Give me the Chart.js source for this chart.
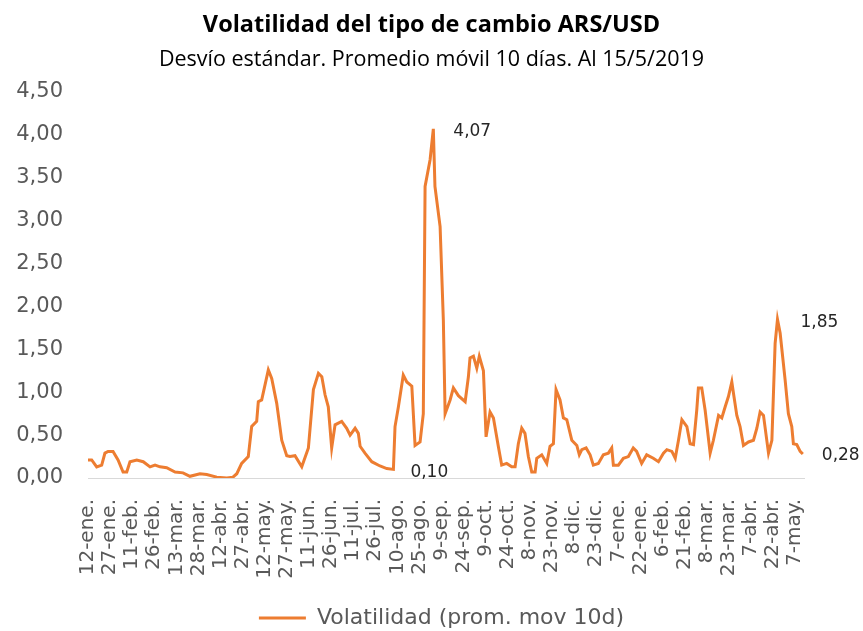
<!DOCTYPE html>
<html>
<head>
<meta charset="utf-8">
<script src="https://cdn.jsdelivr.net/npm/chart.js@4/dist/chart.umd.min.js"></script>
<style>
  html, body { margin: 0; padding: 0; background: #ffffff; }
  #wrap { width: 863px; height: 631px; position: relative; }
</style>
</head>
<body>
<div id="wrap"><canvas id="c" width="863" height="631"></canvas></div>
<script>
// Days since 12-ene-2018 (x) and volatility values (y)
const days = [0, 2.5, 5.9, 9.3, 11.5, 13.6, 17, 20.4, 23.8, 26.3, 28.5, 33.1, 37.5, 42.1, 45.5, 48.9, 53.4, 59.1, 64.5, 69.2,
  76, 80.6, 87.4, 94.2, 98.4, 101, 104.3, 108.8, 111.1, 114.5, 115.6, 117.9, 122.4, 124.7, 128.1, 131.5, 134.9, 137.1, 140.5, 145.1,
  149.6, 153, 156.4, 158.7, 160.9, 163.1, 165.4, 167.7, 172.2, 175.6, 177.9, 181.3, 183.5, 184.7, 188, 192.6, 198.2, 202.8, 207.3, 208.4,
  210.7, 214, 216.4, 219.8, 222, 225.4, 227.6, 228.8, 232.2, 234.4, 235.5, 239, 241.2, 242.4, 245.8, 248, 251.4, 256, 258.2, 259.3,
  261.6, 263.9, 265.6, 268.4, 270.2, 272.9, 275.2, 278.5, 280.8, 284.2, 287.6, 289.9, 292.1, 294.4, 296.6, 298.9, 301.2, 303.5, 304.6, 308,
  311.4, 313.6, 315.9, 317.7, 320.4, 322.7, 325, 328.4, 331.8, 333.5, 335.2, 338.1, 340.8, 343, 346.4, 349.8, 353.2, 355.5, 356.6, 360,
  363.4, 366.8, 370.1, 372.4, 375.8, 379.2, 383.7, 387.2, 390.6, 392.9, 396.3, 398.6, 400.8, 403.1, 406.5, 408.7, 411, 413.2, 414.3, 416.6,
  418.9, 422.3, 424.5, 428, 430.2, 432.5, 434.7, 437, 438.1, 440.4, 442.6, 444.9, 448.3, 451.7, 454, 456.2, 458.5, 461.9, 464.2, 466.4,
  468, 469.8, 473.2, 475.4, 477.7, 478.8, 481.1, 483.4, 485.2];
const volatilidad = [0.21, 0.21, 0.13, 0.15, 0.29, 0.31, 0.31, 0.21, 0.07, 0.07, 0.19, 0.21, 0.19, 0.13, 0.15, 0.13, 0.12, 0.07, 0.06, 0.02,
  0.05, 0.04, 0.01, 0.00, 0.01, 0.05, 0.17, 0.25, 0.60, 0.66, 0.89, 0.91, 1.26, 1.16, 0.87, 0.44, 0.26, 0.25, 0.26, 0.13,
  0.35, 1.03, 1.22, 1.18, 0.97, 0.83, 0.35, 0.62, 0.66, 0.58, 0.50, 0.58, 0.52, 0.37, 0.29, 0.19, 0.14, 0.11, 0.10, 0.60,
  0.83, 1.20, 1.12, 1.07, 0.38, 0.42, 0.75, 3.40, 3.71, 4.07, 3.40, 2.93, 1.84, 0.75, 0.91, 1.05, 0.96, 0.89, 1.18, 1.40,
  1.42, 1.28, 1.42, 1.25, 0.48, 0.77, 0.70, 0.37, 0.15, 0.17, 0.13, 0.13, 0.40, 0.58, 0.52, 0.25, 0.07, 0.07, 0.23, 0.27,
  0.17, 0.37, 0.40, 1.03, 0.91, 0.70, 0.68, 0.44, 0.38, 0.27, 0.33, 0.35, 0.27, 0.15, 0.17, 0.27, 0.29, 0.35, 0.15, 0.15,
  0.23, 0.25, 0.35, 0.31, 0.17, 0.27, 0.23, 0.19, 0.29, 0.33, 0.31, 0.23, 0.44, 0.68, 0.60, 0.40, 0.39, 0.79, 1.05, 1.05,
  0.79, 0.29, 0.44, 0.73, 0.70, 0.83, 0.95, 1.12, 0.99, 0.73, 0.60, 0.38, 0.42, 0.44, 0.58, 0.77, 0.73, 0.29, 0.44, 1.57,
  1.85, 1.69, 1.14, 0.75, 0.60, 0.40, 0.39, 0.31, 0.28];
// Tick labels every 15 days starting 12-ene-2018
const tickLabels = ['12-ene.', '27-ene.', '11-feb.', '26-feb.', '13-mar.', '28-mar.', '12-abr.', '27-abr.', '12-may.', '27-may.',
  '11-jun.', '26-jun.', '11-jul.', '26-jul.', '10-ago.', '25-ago.', '9-sep.', '24-sep.', '9-oct.', '24-oct.', '8-nov.', '23-nov.',
  '8-dic.', '23-dic.', '7-ene.', '22-ene.', '6-feb.', '21-feb.', '8-mar.', '23-mar.', '7-abr.', '22-abr.', '7-may.'];
const yTicks = [0, 0.5, 1, 1.5, 2, 2.5, 3, 3.5, 4, 4.5];
const annotatedValues = [4.07, 1.85, 0.10, 0.28];

const TFONT = "'Open Sans', Lato, sans-serif";
const AFONT = "'DejaVu Sans', Verdana, sans-serif";
const fmt = v => v.toFixed(2).replace('.', ',');

const points = days.map((d, i) => ({ x: d, y: volatilidad[i] }));

// annotation offsets (style only)
const annotStyle = {
  '4.07': { dx: 20, dy: 3 },
  '1.85': { dx: 23, dy: 3 },
  '0.1':  { dx: 17, dy: 3 },
  '0.28': { dx: 19, dy: 2 }
};

const annotPlugin = {
  id: 'annot',
  afterLayout(chart) {
    if (chart.legend) { chart.legend.left += 10; chart.legend.right += 10; }
  },
  afterDatasetsDraw(chart) {
    const ctx = chart.ctx;
    const meta = chart.getDatasetMeta(0);
    ctx.save();
    ctx.font = "17px " + AFONT;
    ctx.fillStyle = '#262626';
    ctx.textAlign = 'left';
    ctx.textBaseline = 'middle';
    annotatedValues.forEach(val => {
      let idx;
      if (val === 0.28) idx = volatilidad.length - 1;
      else idx = volatilidad.indexOf(val);
      if (idx < 0) return;
      const el = meta.data[idx];
      const st = annotStyle[String(val)] || { dx: 15, dy: 0 };
      ctx.fillText(fmt(volatilidad[idx]), el.x + st.dx, el.y + st.dy);
    });
    ctx.restore();
  }
};

new Chart(document.getElementById('c'), {
  type: 'line',
  data: {
    datasets: [{
      label: 'Volatilidad (prom. mov 10d)',
      data: points,
      borderColor: '#ED7D31',
      backgroundColor: '#ED7D31',
      borderWidth: 3,
      pointRadius: 0,
      tension: 0,
      fill: false
    }]
  },
  options: {
    responsive: false,
    animation: false,
    layout: { padding: { left: 0, right: 0, top: 0, bottom: -8 } },
    plugins: {
      title: {
        display: true,
        text: 'Volatilidad del tipo de cambio ARS/USD',
        font: { family: TFONT, size: 23.5, weight: 'bold' },
        color: '#000000',
        padding: { top: 11, bottom: 2 }
      },
      subtitle: {
        display: true,
        text: 'Desvío estándar. Promedio móvil 10 días. Al 15/5/2019',
        font: { family: TFONT, size: 21.5, weight: 'normal' },
        color: '#000000',
        padding: { top: 6, bottom: 19 }
      },
      legend: {
        display: true,
        position: 'bottom',
        labels: {
          usePointStyle: true,
          pointStyle: 'line',
          pointStyleWidth: 47,
          font: { family: AFONT, size: 22 },
          color: '#595959',
          padding: 10
        }
      },
      tooltip: { enabled: false }
    },
    scales: {
      x: {
        type: 'linear',
        min: 0,
        max: 486,
        afterFit(scale) { scale.height = 119; },
        grid: { display: false, drawTicks: false },
        border: { display: true, color: '#D9D9D9', width: 1 },
        ticks: {
          stepSize: 15,
          includeBounds: false,
          autoSkip: false,
          minRotation: 90,
          maxRotation: 90,
          padding: 21,
          color: '#595959',
          font: { family: AFONT, size: 20 },
          callback: (v) => tickLabels[Math.round(v / 15)] || ''
        }
      },
      y: {
        min: 0,
        max: 4.5,
        afterFit(scale) { scale.width = 88; },
        afterBuildTicks(scale) { scale.ticks = yTicks.map(v => ({ value: v })); },
        grid: { display: false, drawTicks: false },
        border: { display: false },
        ticks: {
          padding: 25,
          color: '#595959',
          font: { family: AFONT, size: 21 },
          callback: (v) => fmt(v)
        }
      },
      yRight: {
        type: 'linear',
        position: 'right',
        min: 0,
        max: 4.5,
        afterFit(scale) { scale.width = 59; },
        grid: { display: false, drawTicks: false },
        border: { display: false },
        ticks: { display: false }
      }
    }
  },
  plugins: [annotPlugin]
});
</script>
</body>
</html>
